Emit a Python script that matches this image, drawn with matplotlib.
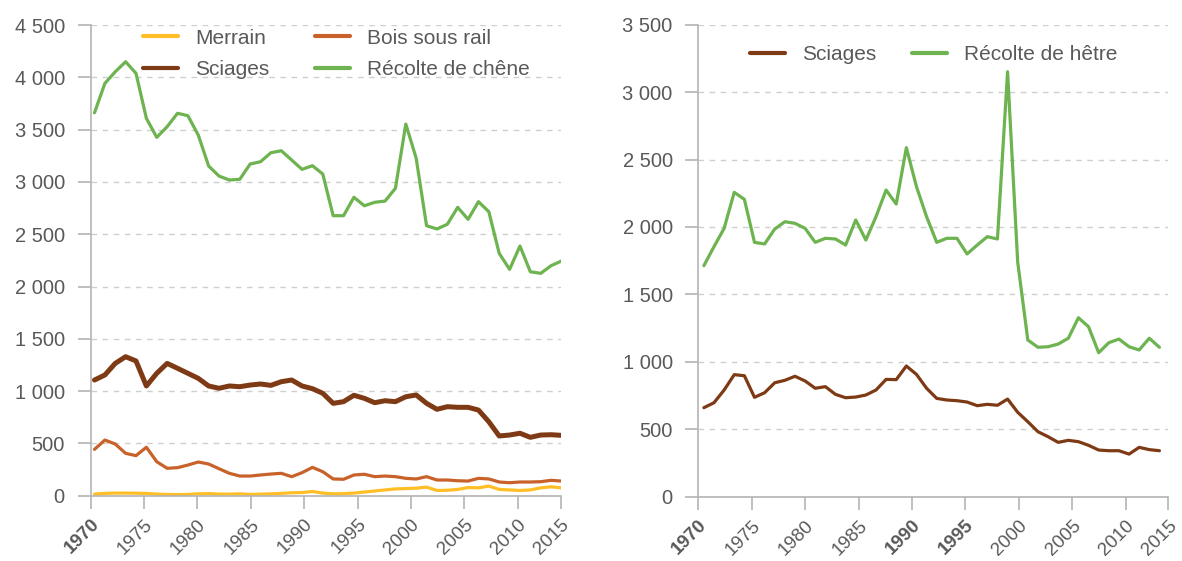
import numpy as np
import matplotlib
matplotlib.use("Agg")
import matplotlib.pyplot as plt
from matplotlib.ticker import FuncFormatter

plt.rcParams['font.family'] = ['Liberation Sans', 'DejaVu Sans']

# années 1970-2015
annees = list(range(1970, 2016))

# panneau gauche : chêne (milliers de m3)
merrain = [15, 22, 25, 25, 24, 22, 15, 12, 10, 12, 18, 20, 15, 15, 18, 12, 15, 18, 22, 28,
           30, 40, 25, 18, 20, 25, 35, 45, 55, 65, 68, 72, 82, 50, 52, 60, 78, 75, 92, 60,
           55, 50, 55, 75, 85, 75]
bois_sous_rail = [443, 532, 494, 405, 383, 463, 325, 262, 268, 293, 322, 303, 258, 214, 188, 188,
                  198, 207, 214, 182, 220, 271, 229, 160, 157, 198, 205, 182, 188, 182, 166, 160,
                  182, 150, 150, 143, 140, 166, 160, 131, 124, 131, 131, 134, 147, 140]
sciages_chene = [1106, 1154, 1265, 1329, 1288, 1049, 1170, 1265, 1218, 1170, 1122, 1049, 1027,
                 1049, 1042, 1058, 1068, 1055, 1090, 1106, 1049, 1023, 979, 883, 899, 960, 931,
                 889, 908, 899, 946, 963, 883, 826, 851, 845, 845, 819, 707, 571, 580, 597, 558,
                 580, 583, 577]
recolte_chene = [3661, 3942, 4053, 4149, 4038, 3608, 3426, 3528, 3656, 3633, 3448, 3152, 3056,
                 3018, 3025, 3171, 3193, 3279, 3298, 3209, 3120, 3155, 3075, 2677, 2677, 2853,
                 2772, 2805, 2817, 2939, 3553, 3226, 2581, 2550, 2595, 2757, 2642, 2811, 2715,
                 2317, 2164, 2387, 2141, 2126, 2199, 2244]

# panneau droit : hêtre
sciages_hetre = [660, 697, 791, 905, 897, 737, 771, 845, 863, 893, 858, 804, 816, 759, 734, 739,
                 754, 791, 870, 868, 969, 907, 804, 729, 717, 712, 702, 675, 685, 678, 724, 626,
                 556, 482, 445, 403, 418, 408, 381, 346, 341, 341, 316, 366, 349, 341]
recolte_hetre = [1713, 1854, 1990, 2257, 2205, 1886, 1874, 1985, 2039, 2027, 1990, 1886, 1916,
                 1911, 1866, 2052, 1903, 2076, 2274, 2170, 2588, 2299, 2076, 1886, 1916, 1916,
                 1800, 1866, 1928, 1911, 3151, 1740, 1162, 1108, 1112, 1132, 1175, 1327, 1260,
                 1068, 1142, 1169, 1112, 1088, 1175, 1108]

tick_pos = [1970, 1975, 1980, 1985, 1990, 1995, 2000, 2005, 2010, 2014]
tick_lab = ['1970', '1975', '1980', '1985', '1990', '1995', '2000', '2005', '2010', '2015']

JAUNE = '#FFBE26'
ORANGE = '#C8622A'
BRUN = '#7E3A14'
VERT = '#6DB34F'
GRIS_TXT = '#595959'
GRIS_AXE = '#b4b4b4'

fmt = FuncFormatter(lambda v, p: '{:,}'.format(int(v)).replace(',', ' '))


def habiller(ax, ymax, gras):
    ax.set_xlim(1970, 2014)
    ax.set_ylim(0, ymax)
    ax.set_yticks(np.arange(0, ymax + 1, 500))
    ax.yaxis.set_major_formatter(fmt)
    ax.set_xticks(tick_pos)
    ax.set_xticklabels(tick_lab)
    for sp in ['top', 'right']:
        ax.spines[sp].set_visible(False)
    for sp in ['left', 'bottom']:
        ax.spines[sp].set_color(GRIS_AXE)
        ax.spines[sp].set_linewidth(1.2)
    ax.grid(axis='y', linestyle=(0, (4, 4)), color='#cfcfcf', linewidth=1)
    ax.set_axisbelow(True)
    ax.tick_params(axis='both', colors=GRIS_AXE, length=9.5, width=1.2,
                   labelcolor=GRIS_TXT)
    ax.tick_params(axis='y', pad=9, labelsize=14.5)
    ax.tick_params(axis='x', pad=5, labelsize=13.5)
    for lab in ax.get_xticklabels():
        lab.set_rotation(45)
        lab.set_ha('right')
        lab.set_rotation_mode('anchor')
        if lab.get_text() in gras:
            lab.set_fontweight('bold')


def legende(ax, ordre, x0, y0, colsp):
    handles, labels = ax.get_legend_handles_labels()
    h = [handles[i] for i in ordre]
    l = [labels[i] for i in ordre]
    leg = ax.legend(h, l, ncol=2, loc='upper left', bbox_to_anchor=(x0, y0), frameon=False,
                    fontsize=15, handlelength=1.7, handletextpad=0.8, columnspacing=colsp,
                    labelspacing=0.6, borderpad=0, borderaxespad=0)
    for t in leg.get_texts():
        t.set_color(GRIS_TXT)
    for ln in leg.get_lines():
        ln.set_linewidth(3)


fig = plt.figure(figsize=(11.82, 5.61), dpi=100)
ax1 = fig.add_axes([0.0766, 0.1164, 0.3976, 0.839])
ax2 = fig.add_axes([0.5908, 0.1146, 0.3976, 0.8414])

n = len(annees)
x1 = np.linspace(1970.37, 2014.09, n)
x2 = np.linspace(1970.52, 2013.17, n)

ax1.plot(x1, merrain, color=JAUNE, lw=2.3, label='Merrain', solid_capstyle='round')
ax1.plot(x1, bois_sous_rail, color=ORANGE, lw=2.3, label='Bois sous rail', solid_capstyle='round')
ax1.plot(x1, sciages_chene, color=BRUN, lw=3.6, label='Sciages', solid_capstyle='round')
ax1.plot(x1, recolte_chene, color=VERT, lw=2.3, label='Récolte de chêne', solid_capstyle='round')
habiller(ax1, 4500, ['1970'])
legende(ax1, [0, 2, 1, 3], 0.111, 0.992, 2.2)

ax2.plot(x2, sciages_hetre, color=BRUN, lw=2.3, label='Sciages', solid_capstyle='round')
ax2.plot(x2, recolte_hetre, color=VERT, lw=2.3, label='Récolte de hêtre', solid_capstyle='round')
habiller(ax2, 3500, ['1970', '1990', '1995'])
legende(ax2, [0, 1], 0.11, 0.957, 1.7)

fig.savefig('out.png', dpi=100)
